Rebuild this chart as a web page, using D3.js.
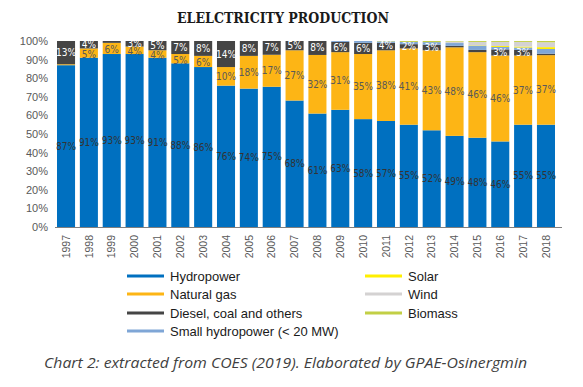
<!DOCTYPE html>
<html>
<head>
<meta charset="utf-8">
<script src="https://cdn.jsdelivr.net/npm/d3@7"></script>
<style>
  body { margin: 0; background: #fff; }
  svg { display: block; }
</style>
</head>
<body>
<svg id="chart" width="583" height="387"></svg>
<script>
// years on the x axis
let years = ['1997', '1998', '1999', '2000', '2001', '2002', '2003', '2004', '2005', '2006', '2007',
  '2008', '2009', '2010', '2011', '2012', '2013', '2014', '2015', '2016', '2017', '2018'];

// shares in %
let hydro = [87, 91, 93, 93, 91, 88, 86, 76, 74.4, 75.4, 68, 61, 63, 58, 57, 55, 52, 49, 48, 46, 55, 55];
let gas = [0.5, 5, 6, 4, 4, 5, 6, 10, 17.6, 17.2, 27, 31.5, 31, 35, 38, 41, 43, 47.6, 46, 46.2, 37.2, 37.4];
let diesel = [12.5, 4, 1, 3, 5, 7, 8, 14, 8, 7.4, 5, 7.5, 5.5, 6, 4, 2.3, 3, 0.8, 1.2, 3.3, 3, 0.8];
let smallHydro = [0, 0, 0, 0, 0, 0, 0, 0, 0, 0, 0, 0, 0.5, 1, 0.8, 1.2, 1.4, 1.5, 2.3, 1.3, 1.3, 2.5];
let solar = [0, 0, 0, 0, 0, 0, 0, 0, 0, 0, 0, 0, 0, 0, 0, 0, 0, 0, 0.2, 0.5, 0.5, 1];
let wind = [0, 0, 0, 0, 0, 0, 0, 0, 0, 0, 0, 0, 0, 0, 0, 0, 0, 0.8, 1.8, 2.2, 2.5, 2.6];
let biomass = [0, 0, 0, 0, 0, 0, 0, 0, 0, 0, 0, 0, 0, 0, 0.2, 0.5, 0.6, 0.3, 0.5, 0.5, 0.5, 0.7];

let yTicks = [0, 10, 20, 30, 40, 50, 60, 70, 80, 90, 100];

let series = [
  { key: 'hydro', name: 'Hydropower', values: hydro, color: '#0070c0', label: '#333333' },
  { key: 'gas', name: 'Natural gas', values: gas, color: '#fdb515', label: '#595959' },
  { key: 'diesel', name: 'Diesel, coal and others', values: diesel, color: '#454545', label: '#ffffff' },
  { key: 'small', name: 'Small hydropower (< 20 MW)', values: smallHydro, color: '#7fa6d6', label: null },
  { key: 'solar', name: 'Solar', values: solar, color: '#ffef00', label: null },
  { key: 'wind', name: 'Wind', values: wind, color: '#d4d2d2', label: null },
  { key: 'biomass', name: 'Biomass', values: biomass, color: '#c2cf45', label: null }
];

let table = years.map((y, i) => {
  let row = { year: y };
  series.forEach(s => { row[s.key] = s.values[i]; });
  return row;
});

let svg = d3.select('#chart');

let x = d3.scaleBand()
  .domain(years)
  .range([54.6, 557.4])
  .paddingInner(0.21)
  .paddingOuter(0.105);

let y = d3.scaleLinear()
  .domain([0, 100])
  .range([227, 41]);

let stack = d3.stack().keys(series.map(s => s.key));
let layers = stack(table);

// title
svg.append('text')
  .attr('x', 283)
  .attr('y', 23)
  .attr('text-anchor', 'middle')
  .attr('textLength', 212)
  .attr('lengthAdjust', 'spacingAndGlyphs')
  .style('font-family', '"DejaVu Serif", serif')
  .style('font-weight', 'bold')
  .style('font-size', '15px')
  .style('fill', '#1a1a1a')
  .text('ELELCTRICITY PRODUCTION');

// bars
let groups = svg.append('g').selectAll('g')
  .data(layers)
  .join('g')
  .attr('fill', (d, i) => series[i].color);

groups.selectAll('rect')
  .data(d => d)
  .join('rect')
  .attr('x', d => x(d.data.year))
  .attr('width', x.bandwidth())
  .attr('y', d => y(d[1]))
  .attr('height', d => y(d[0]) - y(d[1]));

// value labels
layers.forEach((layer, i) => {
  let s = series[i];
  if (!s.label) return;
  svg.append('g').selectAll('text')
    .data(layer.filter(d => d[1] - d[0] >= 1.5))
    .join('text')
    .attr('x', d => x(d.data.year) + x.bandwidth() / 2)
    .attr('y', d => {
      let yy = y((d[0] + d[1]) / 2);
      // small top segments: keep the label near the bar top
      if (s.key === 'diesel' && d[1] - d[0] < 5) yy = Math.min(yy, y(d[1]) + 3);
      if (s.key === 'gas' && d[1] - d[0] < 7) yy += 1.5;
      return yy;
    })
    .attr('dy', '0.35em')
    .attr('text-anchor', 'middle')
    .style('font-family', '"Liberation Sans Narrow", "DejaVu Sans Condensed", sans-serif')
    .style('font-size', '10px')
    .style('fill', s.label)
    .text(d => Math.round(d[1] - d[0]) + '%');
});

// y axis
let yAxis = d3.axisLeft(y).tickValues(yTicks).tickFormat(d => d + '%').tickSize(0).tickPadding(0);
let gy = svg.append('g').attr('transform', 'translate(48,0)').call(yAxis);
gy.select('.domain').remove();
gy.selectAll('text')
  .style('font-family', '"Liberation Sans", sans-serif')
  .style('font-size', '11px')
  .style('fill', '#595959');

// x axis
let xAxis = d3.axisBottom(x).tickSize(0).tickPadding(0);
let gx = svg.append('g').attr('transform', 'translate(0,227)').call(xAxis);
gx.select('.domain').attr('d', 'M55,0.5H562').attr('stroke', '#7f7f7f').attr('stroke-width', 1.2);
gx.selectAll('text')
  .attr('transform', 'rotate(-90)')
  .attr('x', -8)
  .attr('y', 0)
  .attr('dy', '0.35em')
  .attr('text-anchor', 'end')
  .style('font-family', '"Liberation Sans", sans-serif')
  .style('font-size', '10.5px')
  .style('fill', '#595959');

// legend
let legendPos = [
  [127, 276], [127, 294], [127, 313], [127, 331],
  [365, 276], [365, 294], [365, 313]
];
let legendOrder = ['hydro', 'gas', 'diesel', 'small', 'solar', 'wind', 'biomass'];
let legend = svg.append('g').selectAll('g')
  .data(legendOrder.map(k => series.find(s => s.key === k)))
  .join('g')
  .attr('transform', (d, i) => `translate(${legendPos[i][0]},${legendPos[i][1]})`);

legend.append('line')
  .attr('x1', 0).attr('x2', 37)
  .attr('y1', 0).attr('y2', 0)
  .attr('stroke', d => d.color)
  .attr('stroke-width', 3);

legend.append('text')
  .attr('x', 43)
  .attr('y', 0)
  .attr('dy', '0.35em')
  .style('font-family', '"Liberation Sans", sans-serif')
  .style('font-size', '13px')
  .style('fill', '#1a1a1a')
  .text(d => d.name);

// caption
svg.append('text')
  .attr('x', 44)
  .attr('y', 368)
  .attr('textLength', 483)
  .attr('lengthAdjust', 'spacingAndGlyphs')
  .style('font-family', '"Open Sans", sans-serif')
  .style('font-style', 'italic')
  .style('font-size', '14.5px')
  .style('fill', '#3f3f3f')
  .text('Chart 2: extracted from COES (2019). Elaborated by GPAE-Osinergmin');
</script>
</body>
</html>
